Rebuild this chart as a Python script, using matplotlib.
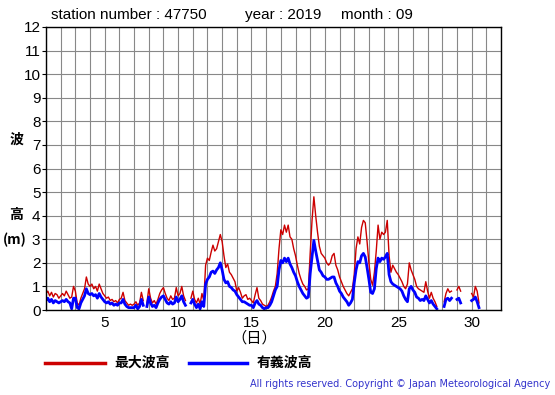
import numpy as np
import matplotlib
matplotlib.use("Agg")
import matplotlib.pyplot as plt

nan = np.nan

# 3-hourly values, one row per day (00,03,...,21h)
max_wave = [
    0.7, 0.8, 0.6, 0.75, 0.55, 0.7, 0.65, 0.5,      # 1
    0.6, 0.7, 0.6, 0.8, 0.65, 0.5, 0.55, 1.0,       # 2
    0.8, 0.3, 0.2, 0.5, 0.7, 0.9, 1.4, 1.1,         # 3
    1.0, 1.1, 0.9, 1.0, 0.8, 1.1, 0.9, 0.7,         # 4
    0.6, 0.5, 0.55, 0.4, 0.45, 0.35, 0.4, 0.3,      # 5
    0.45, 0.5, 0.75, 0.4, 0.3, 0.2, 0.25, 0.2,      # 6
    0.25, 0.35, 0.2, 0.3, 0.75, 0.4, nan, 0.3,      # 7
    0.9, 0.5, 0.3, 0.4, 0.25, 0.45, 0.7, 0.85,      # 8
    0.95, 0.7, 0.5, 0.4, 0.6, 0.45, 0.5, 0.95,      # 9
    0.6, 0.7, 1.0, 0.6, 0.4, nan, nan, 0.5,         # 10
    0.8, 0.45, 0.3, 0.5, 0.25, 0.7, 0.4, 1.9,       # 11
    2.2, 2.1, 2.45, 2.75, 2.5, 2.6, 2.9, 3.2,       # 12
    2.9, 2.3, 1.8, 1.95, 1.6, 1.5, 1.35, 1.2,       # 13
    0.8, 0.95, 0.75, 0.5, 0.6, 0.65, 0.45, 0.5,     # 14
    0.4, 0.3, 0.65, 0.95, 0.5, 0.4, 0.25, 0.2,      # 15
    0.15, 0.2, 0.35, 0.55, 0.8, 1.0, 1.55, 2.6,     # 16
    3.4, 3.2, 3.6, 3.3, 3.6, 3.1, 3.0, 2.6,         # 17
    2.3, 1.9, 1.55, 1.3, 1.1, 1.0, 0.85, 0.9,       # 18
    2.4, 3.8, 4.8, 4.0, 3.3, 2.7, 2.4, 2.3,         # 19
    2.2, 2.0, 1.9, 2.0, 2.3, 2.4, 1.9, 1.7,         # 20
    1.4, 1.2, 1.0, 0.85, 0.7, 0.6, 0.75, 0.9,       # 21
    1.5, 2.6, 3.1, 2.8, 3.5, 3.8, 3.7, 2.9,         # 22
    2.0, 1.3, 1.05, 1.6, 2.5, 3.6, 3.0, 3.3,        # 23
    3.2, 3.3, 3.8, 2.3, 1.6, 1.9, 1.75, 1.6,        # 24
    1.5, 1.35, 1.2, 1.0, 0.9, 1.1, 2.0, 1.7,        # 25
    1.5, 1.3, 1.0, 0.9, 0.85, 0.8, 0.75, 1.2,       # 26
    0.8, 0.5, 0.75, 0.5, 0.35, 0.15, nan, nan,      # 27
    nan, 0.35, 0.7, 0.9, 0.75, 0.8, nan, nan,       # 28
    0.85, 1.0, 0.8, nan, nan, nan, nan, nan,        # 29
    0.7, 0.55, 1.0, 0.8, 0.3, nan, nan, nan,        # 30
]

sig_wave = [
    0.4, 0.5, 0.35, 0.45, 0.3, 0.4, 0.35, 0.3,      # 1
    0.35, 0.4, 0.35, 0.45, 0.35, 0.3, 0.05, 0.5,    # 2
    0.5, 0.1, 0.05, 0.3, 0.45, 0.6, 0.9, 0.7,       # 3
    0.65, 0.7, 0.6, 0.65, 0.5, 0.7, 0.55, 0.45,     # 4
    0.35, 0.3, 0.35, 0.25, 0.3, 0.2, 0.25, 0.2,     # 5
    0.3, 0.3, 0.45, 0.25, 0.15, 0.1, 0.1, 0.1,      # 6
    0.1, 0.2, 0.05, 0.15, 0.45, 0.2, nan, 0.15,     # 7
    0.55, 0.3, 0.15, 0.2, 0.1, 0.3, 0.45, 0.55,     # 8
    0.6, 0.45, 0.3, 0.25, 0.35, 0.25, 0.3, 0.55,    # 9
    0.35, 0.45, 0.6, 0.35, 0.2, nan, nan, 0.3,      # 10
    0.45, 0.25, 0.1, 0.25, 0.05, 0.35, 0.15, 1.1,   # 11
    1.3, 1.4, 1.6, 1.65, 1.55, 1.7, 1.8, 2.0,       # 12
    1.7, 1.3, 1.15, 1.2, 1.0, 0.95, 0.85, 0.8,      # 13
    0.65, 0.55, 0.45, 0.35, 0.35, 0.3, 0.25, 0.2,   # 14
    0.2, 0.1, 0.3, 0.4, 0.25, 0.2, 0.1, 0.05,       # 15
    0.1, 0.1, 0.2, 0.35, 0.6, 0.85, 1.0, 1.7,       # 16
    2.1, 2.0, 2.2, 2.05, 2.2, 1.95, 1.8, 1.6,       # 17
    1.45, 1.2, 1.0, 0.85, 0.7, 0.6, 0.5, 0.55,      # 18
    1.55, 2.25, 2.95, 2.5, 2.1, 1.7, 1.6, 1.45,     # 19
    1.4, 1.3, 1.3, 1.35, 1.4, 1.4, 1.15, 1.0,       # 20
    0.8, 0.7, 0.55, 0.45, 0.35, 0.2, 0.3, 0.45,     # 21
    1.15, 1.7, 2.05, 2.0, 2.3, 2.4, 2.25, 1.8,      # 22
    1.3, 0.75, 0.7, 0.9, 1.75, 2.2, 2.05, 2.2,      # 23
    2.15, 2.25, 2.4, 1.5, 1.2, 1.1, 1.05, 1.0,      # 24
    0.95, 0.9, 0.8, 0.6, 0.45, 0.35, 0.9, 1.0,      # 25
    0.85, 0.75, 0.55, 0.5, 0.4, 0.45, 0.4, 0.6,     # 26
    0.45, 0.3, 0.4, 0.25, 0.15, 0.05, nan, nan,     # 27
    nan, 0.15, 0.45, 0.5, 0.4, 0.5, nan, nan,       # 28
    0.45, 0.5, 0.3, nan, nan, nan, nan, nan,        # 29
    0.4, 0.45, 0.55, 0.35, 0.1, nan, nan, nan,      # 30
]

days = 1 + np.arange(len(max_wave)) / 8.0
xticks = [5, 10, 15, 20, 25, 30]
yticks = list(range(0, 13))

W, H = 555, 395
plt.rcParams['font.family'] = ['Liberation Sans', 'Noto Sans CJK JP', 'DejaVu Sans']
fig = plt.figure(figsize=(W / 100, H / 100), dpi=100)
ax = fig.add_axes([46 / W, 1 - 310 / H, 455 / W, 283 / H])

ax.plot(days, max_wave, color='#cc0000', linewidth=1.0)
ax.plot(days, sig_wave, color='#0000ff', linewidth=2.0)

ax.set_xlim(1, 32)
ax.set_ylim(0, 12)
ax.set_xticks(range(1, 33), minor=True)
ax.set_xticks(xticks)
ax.set_yticks(yticks)
ax.grid(True, which='both', color='#888888', linewidth=0.8)
ax.tick_params(axis='x', which='both', length=0, labelsize=11, pad=4)
ax.tick_params(axis='y', length=3, labelsize=11, pad=1)
ax.set_axisbelow(True)
for sp in ax.spines.values():
    sp.set_color('black')
    sp.set_linewidth(1.0)


def px(x, y):
    return x / W, 1 - y / H


fig.text(*px(51, 15), 'station number : 47750', fontsize=11, va='center', ha='left')
fig.text(*px(245, 15), 'year : 2019', fontsize=11, va='center', ha='left')
fig.text(*px(341, 15), 'month : 09', fontsize=11, va='center', ha='left')

cjk = ['Noto Sans CJK JP', 'DejaVu Sans']
fig.text(*px(16, 140), '波', fontsize=10, fontweight='bold', family=cjk, ha='center', va='center')
fig.text(*px(16, 215), '高', fontsize=10, fontweight='bold', family=cjk, ha='center', va='center')
fig.text(*px(15, 240), '(m)', fontsize=10, fontweight='bold', family=cjk, ha='center', va='center')
fig.text(*px(254, 338), '（日）', fontsize=11, family=cjk, ha='center', va='center')

fig.add_artist(plt.Line2D([45 / W, 105 / W], [1 - 363 / H] * 2, color='#cc0000', linewidth=2.5))
fig.text(*px(114, 363), '最大波高', fontsize=10, fontweight='bold', family=cjk, va='center')
fig.add_artist(plt.Line2D([189 / W, 247 / W], [1 - 363 / H] * 2, color='#0000ff', linewidth=2.5))
fig.text(*px(257, 363), '有義波高', fontsize=10, fontweight='bold', family=cjk, va='center')

fig.text(*px(550, 384), 'All rights reserved. Copyright © Japan Meteorological Agency',
         fontsize=7, color='#3333cc', ha='right', va='center', family=['DejaVu Sans'])

fig.savefig('out.png', dpi=100)
